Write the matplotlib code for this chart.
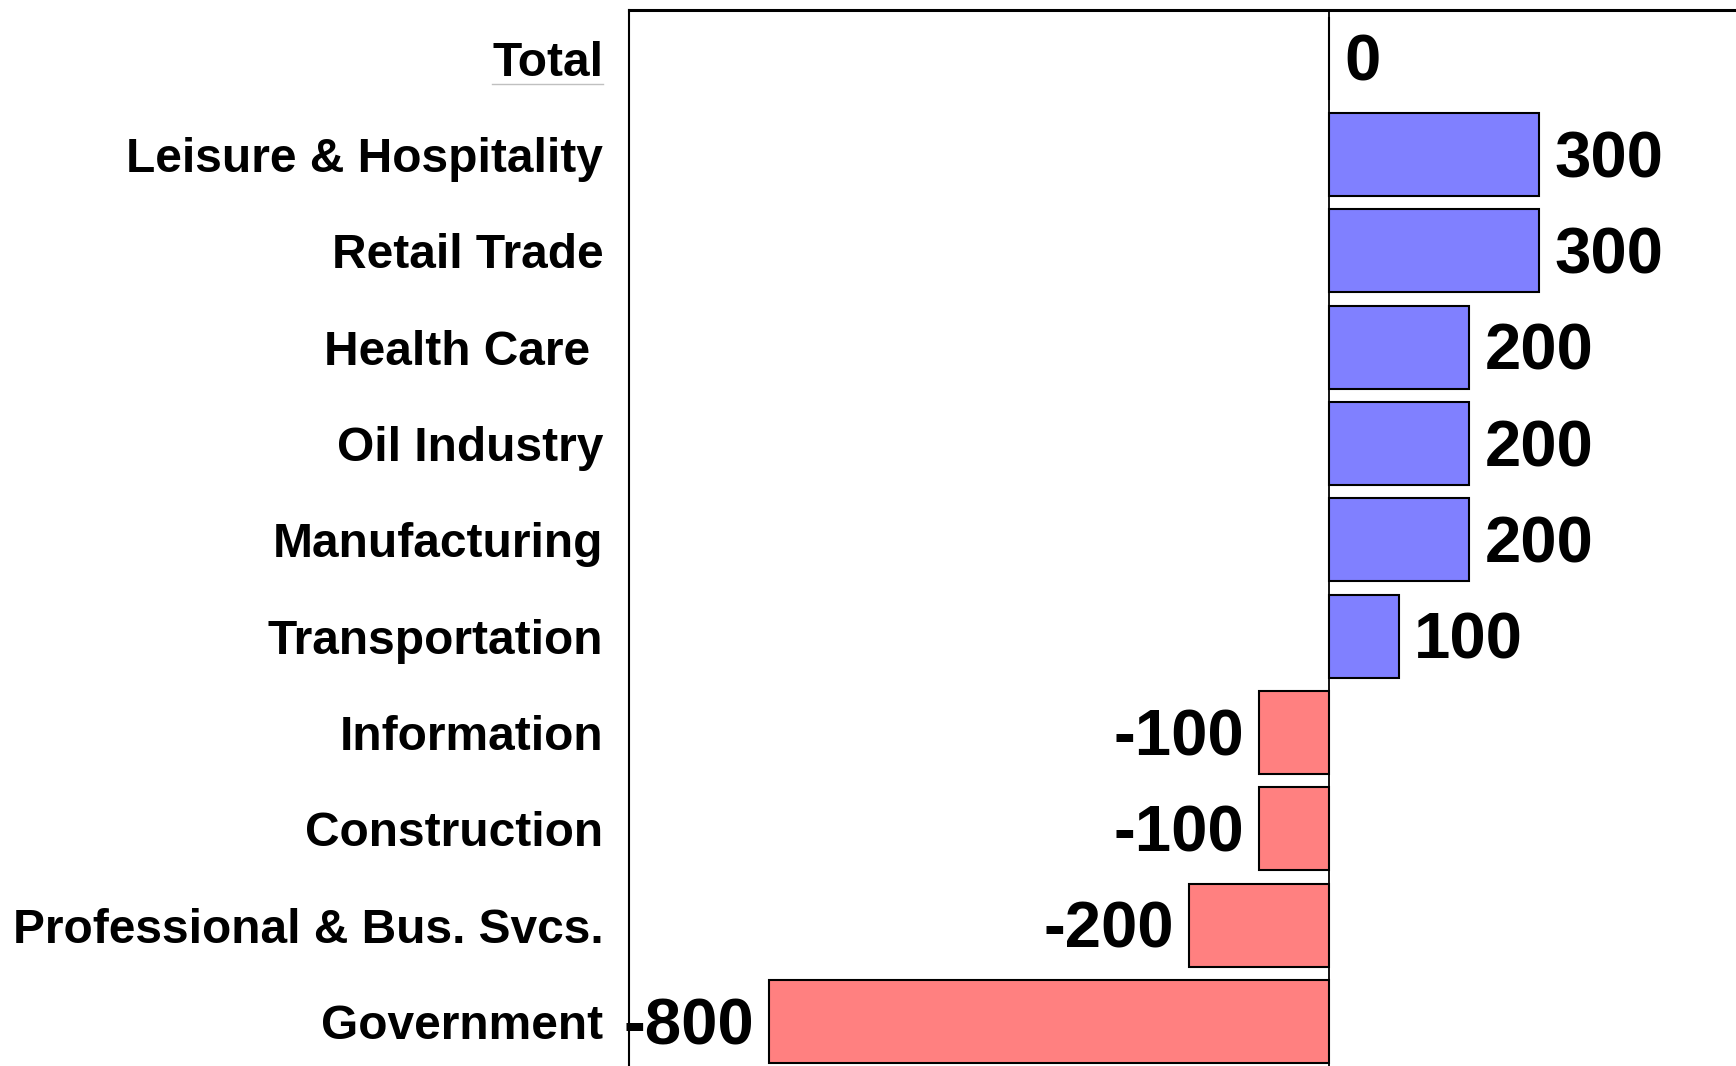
import matplotlib
matplotlib.use("Agg")
import matplotlib.pyplot as plt
from matplotlib.lines import Line2D

# datos (miles de empleos)
sectores = ["Total", "Leisure & Hospitality", "Retail Trade", "Health Care ",
            "Oil Industry", "Manufacturing", "Transportation", "Information",
            "Construction", "Professional & Bus. Svcs.", "Government"]
valores = [0, 300, 300, 200, 200, 200, 100, -100, -100, -200, -800]

AZUL = "#8080FF"
ROJO = "#FF8080"

plt.rcParams["font.family"] = ["Liberation Sans", "DejaVu Sans"]
plt.rcParams["font.weight"] = "bold"

fig = plt.figure(figsize=(17.36, 10.66), dpi=100)
ax = fig.add_axes([0.3623, -0.0034, 0.6452, 0.994])

pos = list(range(len(sectores)))
colores = [AZUL if v >= 0 else ROJO for v in valores]
ax.barh(pos, valores, height=0.86, color=colores, edgecolor="black",
        linewidth=1.5, zorder=2)
ax.axvline(0, color="black", linewidth=1.3, zorder=3)

for y, v in zip(pos, valores):
    if v >= 0:
        ax.annotate(f"{v}", (v, y), xytext=(11, -4), textcoords="offset points",
                    ha="left", va="center", fontsize=47, fontweight="bold")
    else:
        ax.annotate(f"{v}", (v, y), xytext=(-11, -4), textcoords="offset points",
                    ha="right", va="center", fontsize=47, fontweight="bold")

ax.set_xlim(-1000, 600)
ax.set_ylim(len(sectores) - 0.5, -0.5)
ax.set_xticks([])
ax.set_yticks(pos)
ax.set_yticklabels(sectores, fontsize=34.5, fontweight="bold")
ax.tick_params(axis="y", length=0, pad=18.5)

for lado in ax.spines.values():
    lado.set_linewidth(1.5)
ax.spines["top"].set_linewidth(2.2)

# subrayado gris bajo "Total"
fig.canvas.draw()
bb = ax.get_yticklabels()[0].get_window_extent()
fig.add_artist(Line2D([bb.x0, bb.x1], [bb.y0 + 2, bb.y0 + 2], transform=None,
                      color="#c0c0c0", linewidth=1.0))

fig.savefig("out.png", dpi=100)
